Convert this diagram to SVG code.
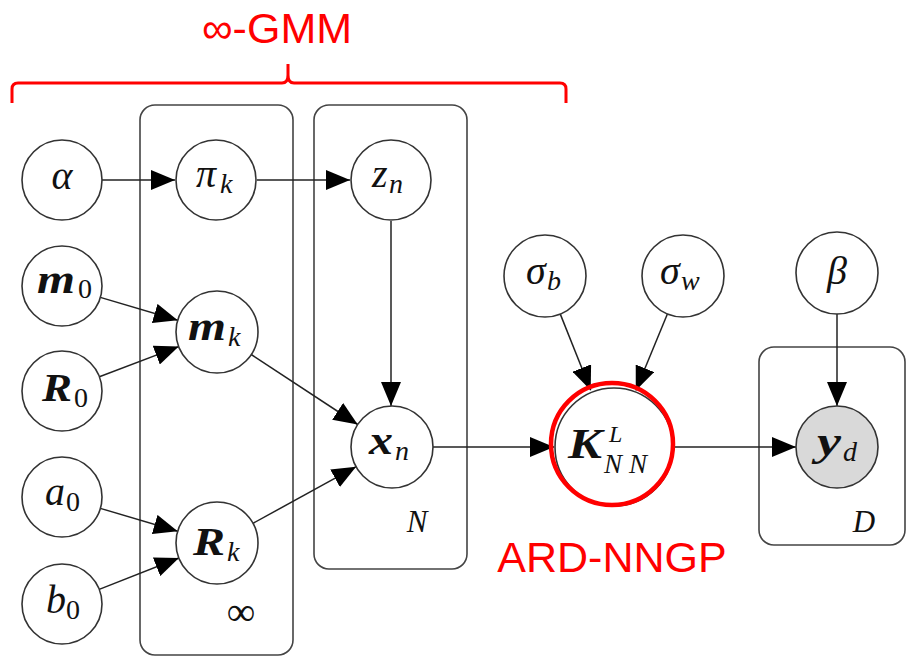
<svg xmlns="http://www.w3.org/2000/svg" width="907" height="656" viewBox="0 0 907 656">
<defs>
<marker id="ah" markerUnits="userSpaceOnUse" markerWidth="24" markerHeight="20" refX="24" refY="10" orient="auto">
<path d="M0,0 L24,10 L0,20 Z" fill="#000"/>
</marker>
<style>
.plate{fill:none;stroke:#444;stroke-width:1.6}
.node{fill:#fff;stroke:#333;stroke-width:1.6}
.obs{fill:#d9d9d9;stroke:#333;stroke-width:1.6}
.edge{stroke:#222;stroke-width:1.5;fill:none;marker-end:url(#ah)}
.m{font-family:"Liberation Serif","DejaVu Serif",serif;font-style:italic;font-size:40px;fill:#111}
.c{text-anchor:middle}
.b{font-weight:bold}
.s{font-size:28px;font-weight:normal}
.u{font-style:normal}
.red{font-family:"Liberation Sans",Arial,sans-serif;font-size:43px;fill:#ff0000;text-anchor:middle}
</style>
</defs>
<rect width="907" height="656" fill="#fff"/>

<g id="annotations">
<text class="red" x="277" y="43">∞-GMM</text>
<path d="M12,103 V89 Q12,83 18,83 H282 Q288,83 288,75 V64 M288,75 Q288,83 294,83 H560 Q566,83 566,89 V103" fill="none" stroke="#ff0000" stroke-width="3"/>
<text class="red" x="612" y="572">ARD-NNGP</text>
</g>

<g id="plates">
<g id="plate-inf"><rect class="plate" x="140" y="105" width="153" height="550" rx="15"/><text class="m u c" x="241" y="625" style="font-size:40px">∞</text></g>
<g id="plate-N"><rect class="plate" x="314" y="105" width="153" height="464" rx="15"/><text class="m c" x="417" y="532" style="font-size:31px">N</text></g>
<g id="plate-D"><rect class="plate" x="759" y="347" width="146" height="198" rx="15"/><text class="m c" x="864" y="532" style="font-size:31px">D</text></g>
</g>

<g id="connectors">
<line class="edge" x1="102" y1="180" x2="175" y2="180"/>
<line class="edge" x1="257" y1="180" x2="350" y2="180"/>
<line class="edge" x1="391" y1="221" x2="391" y2="406"/>
<line class="edge" x1="100.3" y1="297.4" x2="177.7" y2="320.3"/>
<line class="edge" x1="99.4" y1="376.8" x2="178.7" y2="346.6"/>
<line class="edge" x1="250.4" y1="354" x2="357.7" y2="424.5"/>
<line class="edge" x1="100.3" y1="508.4" x2="177.7" y2="531.3"/>
<line class="edge" x1="99.2" y1="589.4" x2="178.9" y2="558"/>
<line class="edge" x1="252.1" y1="523.8" x2="356.1" y2="466.7"/>
<line class="edge" x1="433" y1="447" x2="554" y2="447"/>
<line class="edge" x1="559.9" y1="313.1" x2="590.7" y2="390.3"/>
<line class="edge" x1="667.8" y1="313" x2="635.8" y2="390.5"/>
<line class="edge" x1="673" y1="447" x2="796" y2="447"/>
<line class="edge" x1="837" y1="314" x2="837" y2="406"/>
</g>

<g id="alpha"><circle class="node" cx="62" cy="180" r="40"/><text class="m c" x="62" y="189">α</text></g>
<g id="pi_k"><circle class="node" cx="216" cy="180" r="40"/><text class="m" x="196" y="187">π<tspan class="s" x="220" y="193">k</tspan></text></g>
<g id="z_n"><circle class="node" cx="391" cy="180" r="40"/><text class="m" x="372" y="187">z<tspan class="s" x="389" y="193">n</tspan></text></g>
<g id="m_0"><circle class="node" cx="62" cy="286" r="40"/><text class="m b" x="37" y="293" textLength="38" lengthAdjust="spacingAndGlyphs">m</text><text class="m s u" x="78" y="298">0</text></g>
<g id="R_0"><circle class="node" cx="62" cy="391" r="40"/><text class="m b" x="42" y="401" textLength="30" lengthAdjust="spacingAndGlyphs">R</text><text class="m s u" x="74" y="407">0</text></g>
<g id="a_0"><circle class="node" cx="62" cy="497" r="40"/><text class="m" x="45" y="505">a<tspan class="s u" x="66" y="511">0</tspan></text></g>
<g id="b_0"><circle class="node" cx="62" cy="604" r="40"/><text class="m" x="46" y="613">b<tspan class="s u" x="66" y="619">0</tspan></text></g>
<g id="m_k"><circle class="node" cx="217" cy="332" r="41"/><text class="m b" x="188" y="340" textLength="38" lengthAdjust="spacingAndGlyphs">m</text><text class="m s" x="228" y="346">k</text></g>
<g id="R_k"><circle class="node" cx="217" cy="543" r="41"/><text class="m b" x="193" y="555" textLength="32" lengthAdjust="spacingAndGlyphs">R</text><text class="m s" x="227" y="561">k</text></g>
<g id="x_n"><circle class="node" cx="392" cy="447" r="41"/><text class="m b" x="369" y="454" textLength="24" lengthAdjust="spacingAndGlyphs">x</text><text class="m s" x="395" y="460">n</text></g>
<g id="sigma_b"><circle class="node" cx="545" cy="276" r="41"/><text class="m" x="526" y="284">σ<tspan class="s" x="547" y="290">b</tspan></text></g>
<g id="sigma_w"><circle class="node" cx="683" cy="276" r="41"/><text class="m" x="660" y="284">σ<tspan class="s" x="681" y="290">w</tspan></text></g>
<g id="beta"><circle class="node" cx="837" cy="273" r="41"/><text class="m c" x="837" y="284">β</text></g>
<g id="K"><circle class="node" cx="614" cy="447" r="59"/><circle cx="612" cy="444" r="61" fill="none" stroke="#ff0000" stroke-width="4.5"/><text class="m b" x="568" y="458" style="font-size:42px" textLength="34" lengthAdjust="spacingAndGlyphs">K</text><text class="m" x="609" y="442" style="font-size:24px">L</text><text class="m" x="604" y="473" style="font-size:27px;letter-spacing:7px">NN</text></g>
<g id="y_d"><circle class="obs" cx="837" cy="447" r="41"/><text class="m b" x="817" y="455" textLength="24" lengthAdjust="spacingAndGlyphs">y</text><text class="m s" x="843" y="461">d</text></g>
</svg>
